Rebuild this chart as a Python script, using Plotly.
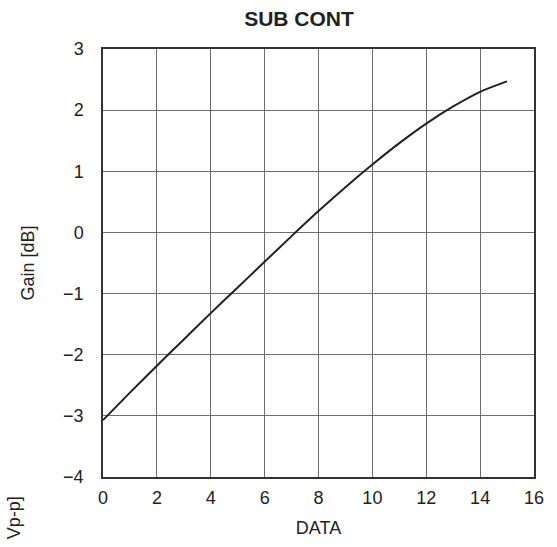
import plotly.graph_objects as go

data_x = [0, 1, 2, 3, 4, 5, 6, 7, 8, 9, 10, 11, 12, 13, 14, 15]
gain_db = [-3.07, -2.62, -2.18, -1.75, -1.32, -0.90, -0.48, -0.06, 0.35, 0.74, 1.11, 1.46, 1.78, 2.06, 2.30, 2.47]

x_ticks = [0, 2, 4, 6, 8, 10, 12, 14, 16]
y_ticks = [-4, -3, -2, -1, 0, 1, 2, 3]
y_tick_text = ["\u22124", "\u22123", "\u22122", "\u22121", "0", "1", "2", "3"]

FONT = "Liberation Sans, Arial, sans-serif"

fig = go.Figure()
fig.add_trace(go.Scatter(
    x=data_x, y=gain_db, mode="lines",
    line=dict(color="#222222", width=2, shape="spline", smoothing=0.8),
    showlegend=False, hoverinfo="skip",
))

fig.update_layout(
    width=557, height=547,
    margin=dict(l=103, r=23, t=49, b=67),
    paper_bgcolor="white", plot_bgcolor="white",
    font=dict(family=FONT, color="#222222"),
    title=dict(text="<b>SUB CONT</b>", x=299 / 557, xanchor="center",
               y=1 - 19 / 547, yanchor="middle",
               font=dict(size=21, family=FONT, color="#222222")),
    xaxis=dict(range=[0, 16], tickvals=x_ticks, ticks="",
               showgrid=True, gridcolor="#6e6e6e", gridwidth=1,
               showline=True, linecolor="#333333", linewidth=1.5, mirror=True,
               zeroline=False, tickfont=dict(size=18, family=FONT),
               ticklabelstandoff=4,
               title=dict(text="DATA", font=dict(size=18, family=FONT), standoff=14)),
    yaxis=dict(range=[-4, 3], tickvals=y_ticks, ticktext=y_tick_text, ticks="",
               showgrid=True, gridcolor="#6e6e6e", gridwidth=1,
               showline=True, linecolor="#333333", linewidth=1.5, mirror=True,
               zeroline=False, tickfont=dict(size=18, family=FONT),
               ticklabelstandoff=14,
               title=dict(text="Gain [dB]", font=dict(size=18, family=FONT), standoff=24)),
)

fig.add_annotation(
    text="Vp-p]", xref="paper", yref="paper",
    x=(14 - 103) / 431, y=(480 - 498) / 431,
    xanchor="center", yanchor="top", textangle=-90, showarrow=False,
    font=dict(size=18, family=FONT, color="#222222"),
)

fig.write_html("out.html", config={"displayModeBar": False},
               post_script="document.body.style.margin='0';")
